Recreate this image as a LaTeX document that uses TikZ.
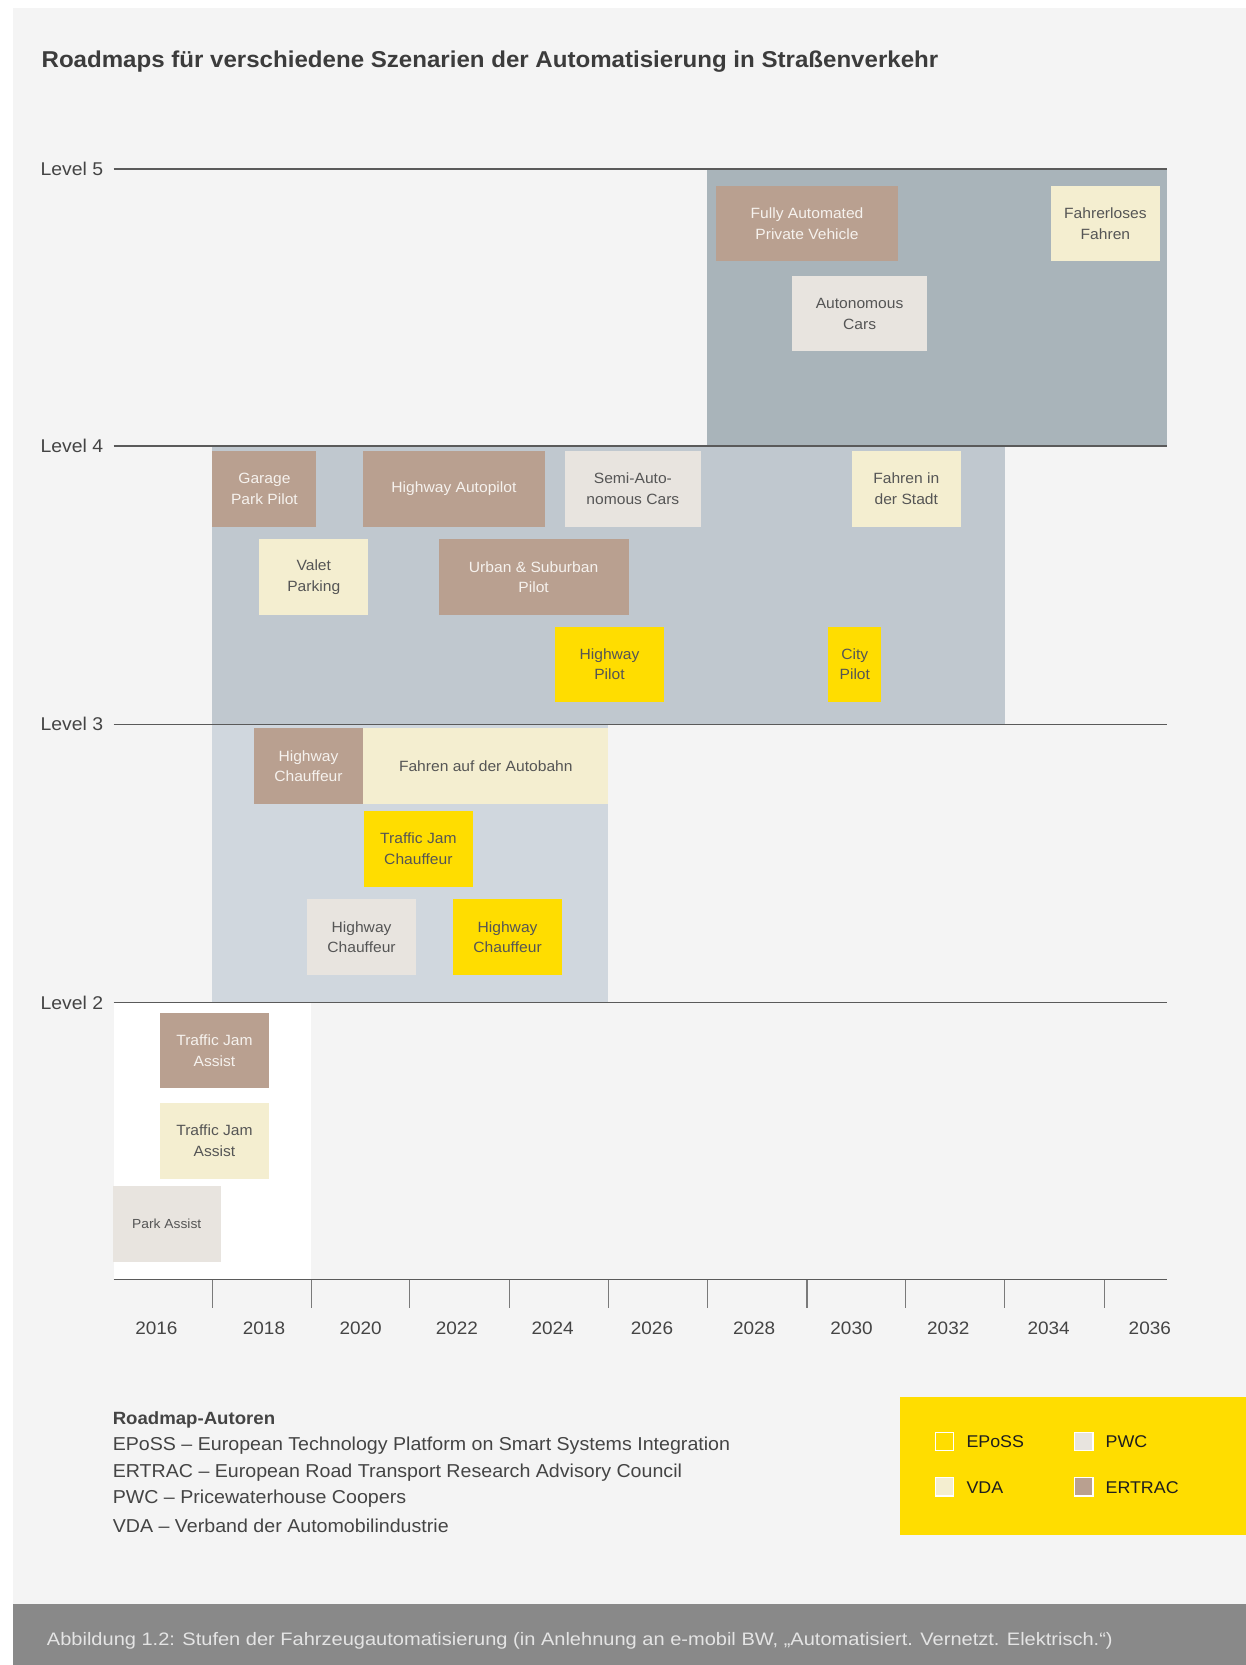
\documentclass[tikz,border=0pt]{standalone}
\usepackage{fontspec}
\setmainfont[FakeStretch=1.05]{Liberation Sans}
\newfontfamily\footfont[FakeStretch=1.11]{Liberation Sans}
\definecolor{cPanel}{HTML}{F4F4F4}
\definecolor{cFoot}{HTML}{898989}
\definecolor{cFootT}{HTML}{E4E4E4}
\definecolor{cL5}{HTML}{A9B4BA}
\definecolor{cL4}{HTML}{C0C8CF}
\definecolor{cL3}{HTML}{D0D7DE}
\definecolor{cErtrac}{HTML}{B9A090}
\definecolor{cErtracT}{HTML}{F6F2EE}
\definecolor{cVda}{HTML}{F4EED0}
\definecolor{cPwc}{HTML}{E8E4DF}
\definecolor{cEposs}{HTML}{FFDD00}
\definecolor{cTxt}{HTML}{555555}
\definecolor{cLbl}{HTML}{444444}
\definecolor{cLine}{HTML}{5A5A5A}
\definecolor{cTick}{HTML}{7A7A7A}
\definecolor{cLeg}{HTML}{1E1E1E}
\definecolor{cTitle}{HTML}{3C3C3C}
\begin{document}
\begin{tikzpicture}[x=1pt,y=1pt,
  box/.style={anchor=north west, inner sep=0pt, outer sep=0pt, align=center,
    font=\fontsize{14}{19.5}\selectfont, minimum height=71pt},
  ertrac/.style={box, fill=cErtrac, text=cErtracT},
  vda/.style={box, fill=cVda, text=cTxt},
  pwc/.style={box, fill=cPwc, text=cTxt},
  eposs/.style={box, fill=cEposs, text=cTxt},
  levellbl/.style={anchor=west, inner sep=0pt, font=\fontsize{17.4}{20}\selectfont, text=cLbl},
  yearlbl/.style={inner sep=0pt, font=\fontsize{17}{20}\selectfont, text=cLbl},
  gridline/.style={draw=cLine, line width=1.3pt},
  tickline/.style={draw=cTick, line width=1pt},
  legsq/.style={draw=white, line width=1.3pt, minimum size=17pt, inner sep=0pt, anchor=north west},
  legtxt/.style={anchor=west, inner sep=0pt, font=\fontsize{16}{20}\selectfont, text=cLeg},
  authtxt/.style={anchor=west, inner sep=0pt, font=\fontsize{17.6}{20}\selectfont, text=cLbl},
]
\useasboundingbox (0,0) rectangle (1173,-1568);
\fill[white] (0,0) rectangle (1173,-1568);
\fill[cPanel] (12,-8) rectangle (1173,-1568);
\fill[cFoot] (12,-1511) rectangle (1173,-1568);

% title
\node[anchor=west, inner sep=0pt, text=cTitle, font=\fontsize{21.6}{24}\selectfont\bfseries] (title) at (39,-58)
  {Roadmaps für verschiedene Szenarien der Automatisierung in Straßenverkehr};

% level regions
\fill[cL5] (666,-159) rectangle (1099,-420);
\fill[cL4] (200,-420) rectangle (946,-682);
\fill[cL3] (200,-682) rectangle (573,-944);
\fill[white] (107,-944) rectangle (293,-1205);

% level lines
\foreach \n/\yy in {5/159,4/420,3/682,2/944}{
  \coordinate (L\n a) at (107,-\yy);
  \coordinate (L\n b) at (1099,-\yy);
  \draw[gridline] (L\n a) -- (L\n b);
  \node[levellbl] (lbl\n) at (38,-\yy) {Level \n};
}
\coordinate (axa) at (107,-1205);
\coordinate (axb) at (1099,-1205);
\draw[gridline] (axa) -- (axb);

% ticks
\foreach \i/\xx in {1/200,2/293,3/386,4/479.5,5/573,6/666,7/760,8/853,9/946,10/1040.5}{
  \coordinate (t\i a) at (\xx,-1205);
  \coordinate (t\i b) at (\xx,-1232);
  \draw[tickline] (t\i a) -- (t\i b);
}
% years
\foreach \yr/\xx in {2016/147.3,2018/248.6,2020/339.6,2022/430.3,2024/520.5,2026/614,2028/710.2,2030/801.9,2032/893,2034/987.6,2036/1082.8}{
  \node[yearlbl] (y\yr) at (\xx,-1251) {\yr};
}

% Level 5 boxes
\node[ertrac, minimum width=172pt] (fap) at (674,-175) {Fully Automated\\Private Vehicle};
\node[vda, minimum width=102pt] (fahrerlos) at (990,-175) {Fahrerloses\\Fahren};
\node[pwc, minimum width=127pt] (autocars) at (746,-260) {Autonomous\\Cars};

% Level 4 boxes
\node[ertrac, minimum width=98pt] (garage) at (200,-425) {Garage\\Park Pilot};
\node[ertrac, minimum width=171pt] (hwap) at (342,-425) {Highway Autopilot};
\node[pwc, minimum width=128pt] (semi) at (532,-425) {Semi-Auto-\\nomous Cars};
\node[vda, minimum width=103pt] (stadt) at (802,-425) {Fahren in\\der Stadt};
\node[vda, minimum width=103pt] (valet) at (244,-508) {Valet\\Parking};
\node[ertrac, minimum width=179pt] (urban) at (413,-508) {Urban \& Suburban\\Pilot};
\node[eposs, minimum width=102pt] (hwpilot) at (523,-590) {Highway\\Pilot};
\node[eposs, minimum width=50pt] (city) at (780,-590) {City\\Pilot};

% Level 3 boxes
\node[ertrac, minimum width=103pt] (hwcha) at (239,-686) {Highway\\Chauffeur};
\node[vda, minimum width=231pt] (autobahn) at (342,-686) {Fahren auf der Autobahn};
\node[eposs, minimum width=102pt] (tjc) at (343,-764) {Traffic Jam\\Chauffeur};
\node[pwc, minimum width=103pt] (hwchb) at (289,-847) {Highway\\Chauffeur};
\node[eposs, minimum width=102pt] (hwchc) at (427,-847) {Highway\\Chauffeur};

% Level 2 boxes
\node[ertrac, minimum width=102pt] (tjaa) at (151,-954) {Traffic Jam\\Assist};
\node[vda, minimum width=102pt] (tjab) at (151,-1039) {Traffic Jam\\Assist};
\node[pwc, minimum width=102pt, font=\fontsize{12.4}{16}\selectfont] (park) at (106,-1117) {Park Assist};

% authors
\node[authtxt, font=\fontsize{16.7}{20}\selectfont\bfseries] (auth0) at (106,-1337.5) {Roadmap-Autoren};
\node[authtxt] (auth1) at (106,-1361.5) {EPoSS – European Technology Platform on Smart Systems Integration};
\node[authtxt] (auth2) at (106,-1386.5) {ERTRAC – European Road Transport Research Advisory Council};
\node[authtxt] (auth3) at (106,-1411.5) {PWC – Pricewaterhouse Coopers};
\node[authtxt] (auth4) at (106,-1436.7) {VDA – Verband der Automobilindustrie};

% legend
\fill[cEposs] (847.3,-1315.5) rectangle (1173,-1445.8);
\node[legsq, fill=cEposs] (sqe) at (880.5,-1348.5) {};
\node[legtxt] (lte) at (910,-1358) {EPoSS};
\node[legsq, fill=cPwc] (sqp) at (1011.5,-1348.5) {};
\node[legtxt] (ltp) at (1041,-1358) {PWC};
\node[legsq, fill=cVda] (sqv) at (880.5,-1391) {};
\node[legtxt] (ltv) at (910,-1400.5) {VDA};
\node[legsq, fill=cErtrac] (sqr) at (1011.5,-1391) {};
\node[legtxt] (ltr) at (1041,-1400.5) {ERTRAC};

% footer
\node[anchor=west, inner sep=0pt, text=cFootT, font=\footfont\fontsize{17}{20}\selectfont] (foot) at (44,-1545)
  {Abbildung 1.2: Stufen der Fahrzeugautomatisierung (in Anlehnung an e-mobil BW, „Automatisiert. Vernetzt. Elektrisch.“)};
\end{tikzpicture}
\end{document}
